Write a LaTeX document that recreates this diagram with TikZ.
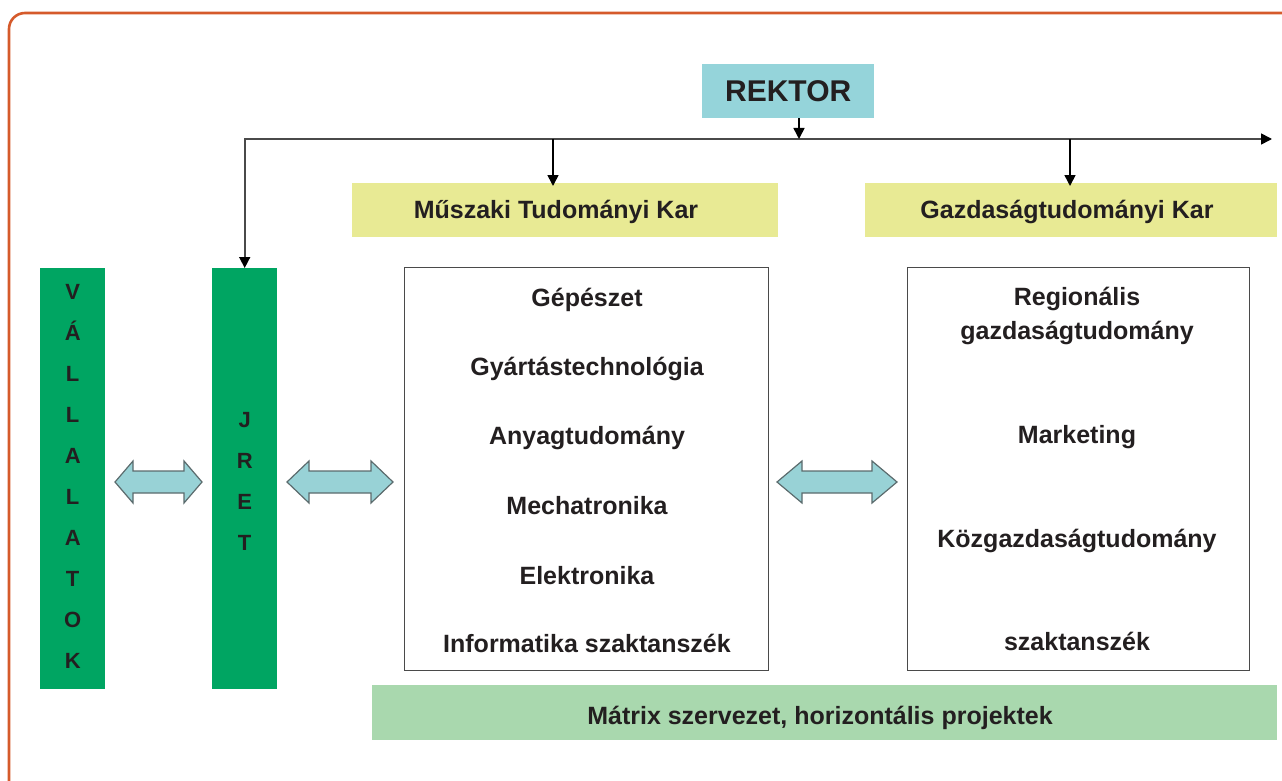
\documentclass[tikz,border=0pt]{standalone}
\usepackage{fontspec}
\setmainfont{Liberation Sans}
\usetikzlibrary{arrows.meta}
\definecolor{frameC}{HTML}{D55A2B}
\definecolor{rektorC}{HTML}{95D4DA}
\definecolor{karC}{HTML}{E8EA94}
\definecolor{barC}{HTML}{00A562}
\definecolor{matrixC}{HTML}{A9D8AE}
\definecolor{fatC}{HTML}{98D2D6}
\definecolor{fatB}{HTML}{5B6B6D}
\definecolor{txtC}{HTML}{231F20}
\definecolor{lineC}{HTML}{4A4A4A}
\begin{document}
\begin{tikzpicture}[x=1pt,y=-1pt,
  every node/.style={text=txtC,font=\fontsize{25}{30}\selectfont\bfseries},
  fillbox/.style={draw=none,inner sep=0pt,anchor=north west},
  whitebox/.style={draw=lineC,line width=1.3pt,fill=white,inner sep=0pt,anchor=north west},
  lbl/.style={anchor=base,inner sep=0pt},
  barlbl/.style={align=center,inner sep=0pt,font=\fontsize{22}{41}\selectfont\bfseries},
  conn/.style={draw=lineC,line width=1.6pt},
  tip/.style={-{Triangle[length=11pt,width=11pt,black]}},
  fatarrow/.style={fill=fatC,draw=fatB,line width=1.2pt,line join=miter}
]
\useasboundingbox (0,0) rectangle (1282,781);
% frame
\draw[frameC,line width=2.6pt,rounded corners=16pt] (1320,13) -- (9,13) -- (9,820);

% top boxes
\node[fillbox,fill=rektorC,minimum width=172pt,minimum height=54pt] (rektor) at (702,64) {};
\node at (rektor.center) (rektortxt) {\fontsize{30}{36}\selectfont\bfseries REKTOR};

\node[fillbox,fill=karC,minimum width=426pt,minimum height=54pt] (mk) at (352,183) {};
\node[lbl] (mktxt) at (556,218) {Műszaki Tudományi Kar};
\node[fillbox,fill=karC,minimum width=412pt,minimum height=54pt] (gk) at (865,183) {};
\node[lbl] (gktxt) at (1067,218) {Gazdaságtudományi Kar};

% bars
\node[fillbox,fill=barC,minimum width=65pt,minimum height=421pt] (vall) at (40,268) {};
\node[barlbl] (valltxt) at ([yshift=2pt]vall.center) {V\\Á\\L\\L\\A\\L\\A\\T\\O\\K};
\node[fillbox,fill=barC,minimum width=65pt,minimum height=421pt] (jret) at (212,268) {};
\node[barlbl] (jrettxt) at ([yshift=-3pt]jret.center) {J\\R\\E\\T};

% white boxes
\node[whitebox,minimum width=364pt,minimum height=403pt] (mbox) at (404,267) {};
\node[lbl] (t1) at (587,306) {Gépészet};
\node[lbl] (t2) at (587,375) {Gyártástechnológia};
\node[lbl] (t3) at (587,444) {Anyagtudomány};
\node[lbl] (t4) at (587,514) {Mechatronika};
\node[lbl] (t5) at (587,584) {Elektronika};
\node[lbl] (t6) at (587,652) {Informatika szaktanszék};

\node[whitebox,minimum width=342pt,minimum height=403pt] (gbox) at (907,267) {};
\node[lbl] (g1) at (1077,305) {Regionális};
\node[lbl] (g2) at (1077,339) {gazdaságtudomány};
\node[lbl] (g3) at (1077,443) {Marketing};
\node[lbl] (g4) at (1077,547) {Közgazdaságtudomány};
\node[lbl] (g5) at (1077,650) {szaktanszék};

% matrix bar
\node[fillbox,fill=matrixC,minimum width=905pt,minimum height=55pt] (matrix) at (372,685) {};
\node[lbl] (mtxt) at (820,724) {Mátrix szervezet, horizontális projektek};

% connectors
\coordinate (hend) at (1272,139);
\coordinate (rk) at (799,0);
\coordinate (mkx) at (553,0);
\coordinate (gkx) at (1070,0);
\draw[conn,{Triangle[length=11pt,width=11pt,black]}-{Triangle[length=11pt,width=11pt,black]}] (hend) -| (jret.north);
\draw[conn,tip,draw=black] (rektor.south -| rk) -- (hend -| rk);
\draw[conn,tip,draw=black] (hend -| mkx) -- ([yshift=-3pt]mk.north -| mkx);
\draw[conn,tip,draw=black] (hend -| gkx) -- ([yshift=-3pt]gk.north -| gkx);

% fat double arrows
\draw[fatarrow] (115,482) -- (133,461) -- (133,471) -- (184,471) -- (184,461) -- (202,482) -- (184,503) -- (184,493) -- (133,493) -- (133,503) -- cycle;
\draw[fatarrow] (287,482) -- (309,461) -- (309,471) -- (371,471) -- (371,461) -- (393,482) -- (371,503) -- (371,493) -- (309,493) -- (309,503) -- cycle;
\draw[fatarrow] (777,482) -- (802,461) -- (802,471) -- (872,471) -- (872,461) -- (897,482) -- (872,503) -- (872,493) -- (802,493) -- (802,503) -- cycle;
\end{tikzpicture}
\end{document}
